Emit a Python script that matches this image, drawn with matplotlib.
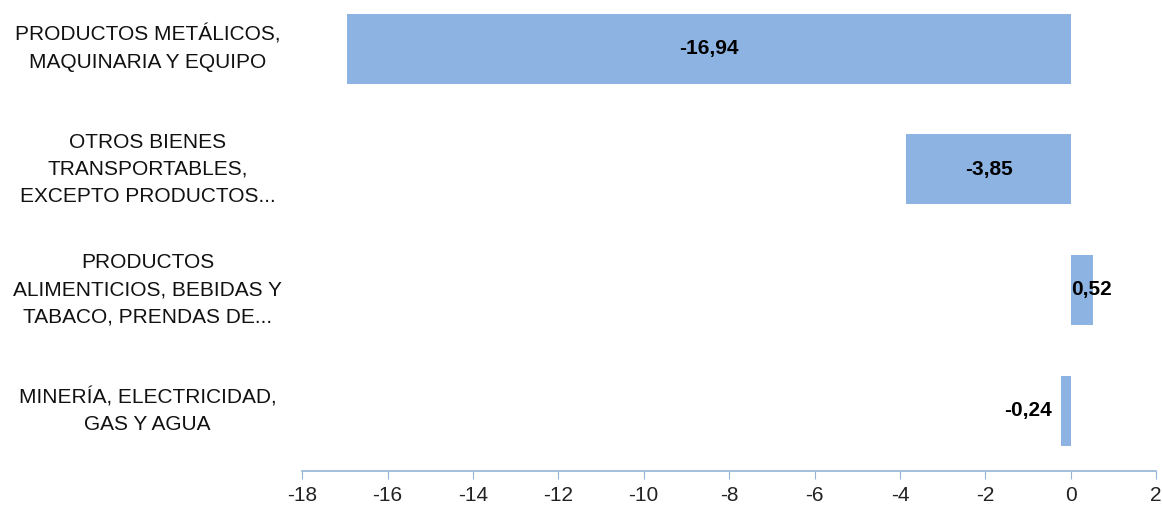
import matplotlib.pyplot as plt

# Chart data (top to bottom)
categories = [
    "PRODUCTOS METÁLICOS,\nMAQUINARIA Y EQUIPO",
    "OTROS BIENES\nTRANSPORTABLES,\nEXCEPTO PRODUCTOS...",
    "PRODUCTOS\nALIMENTICIOS, BEBIDAS Y\nTABACO, PRENDAS DE...",
    "MINERÍA, ELECTRICIDAD,\nGAS Y AGUA",
]
values = [-16.94, -3.85, 0.52, -0.24]
value_labels = ["-16,94", "-3,85", "0,52", "-0,24"]
xticks = list(range(-18, 3, 2))

plt.rcParams['font.family'] = ['Liberation Sans', 'DejaVu Sans']

bar_color = "#8DB3E2"
axis_color = "#95B3D7"

fig = plt.figure(figsize=(11.62, 5.12), dpi=100)
ax = fig.add_axes([0.26, 0.08, 0.735, 0.943])

n = len(categories)
ypos = [n - 1 - i for i in range(n)]
ax.barh(ypos, values, height=0.58, color=bar_color)

ax.set_xlim(-18, 2)
ax.set_ylim(-0.5, n - 0.5)
ax.set_xticks(xticks)
ax.set_xticklabels([str(t) for t in xticks], fontsize=15, color="#222222")
ax.tick_params(axis='x', length=6, color=axis_color, pad=5)
ax.set_yticks([])

for s in ["top", "right", "left"]:
    ax.spines[s].set_visible(False)
ax.spines["bottom"].set_color(axis_color)
ax.spines["bottom"].set_linewidth(1.2)

# category labels, centered text block to the left of the plot
for y, cat in zip(ypos, categories):
    ax.text(-0.181, y, cat, transform=ax.get_yaxis_transform(), ha='center',
            va='center', fontsize=15, multialignment='center', linespacing=1.55,
            color="#111111")

# data labels
for y, v, lab in zip(ypos, values, value_labels):
    if abs(v) > 2:
        ax.text(v / 2, y, lab, ha='center', va='center', fontsize=15, fontweight='bold')
    elif v > 0:
        ax.text(0, y, lab, ha='left', va='center', fontsize=15, fontweight='bold')
    else:
        ax.text(v - 0.2, y, lab, ha='right', va='center', fontsize=15, fontweight='bold')

fig.savefig("out.png", dpi=100)
